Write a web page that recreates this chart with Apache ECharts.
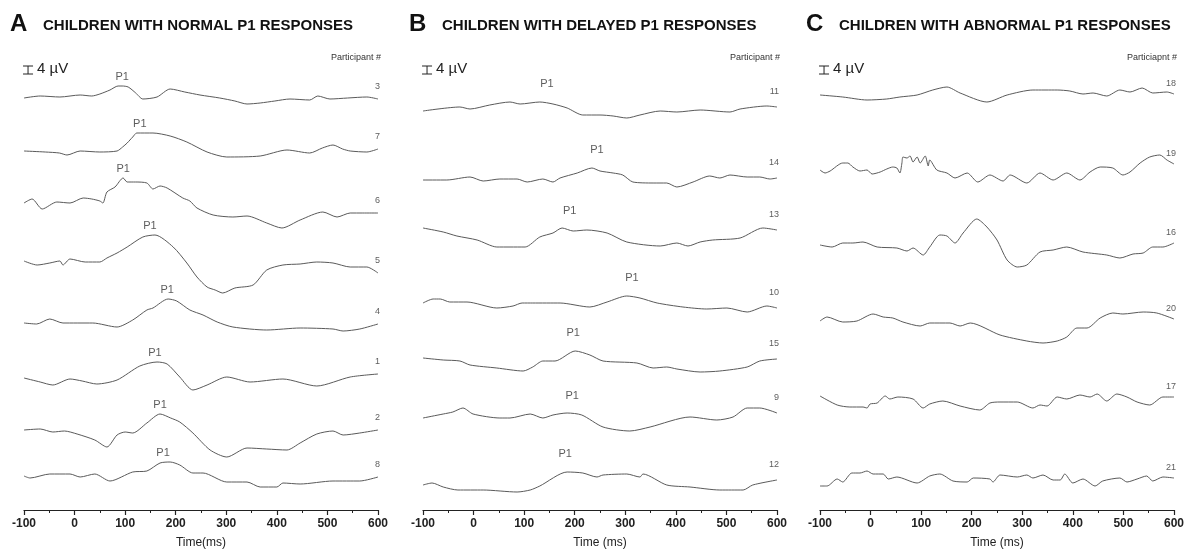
<!DOCTYPE html>
<html>
<head>
<meta charset="utf-8">
<script src="https://cdn.jsdelivr.net/npm/echarts@6/dist/echarts.min.js"></script>
<style>
  html, body { margin: 0; padding: 0; background: #fff; }
  #chart { width: 1186px; height: 552px; }
</style>
</head>
<body>
<div id="chart"></div>
<script>
// time axis (ms)
const timeMin = -100, timeMax = 600, timeStep = 100;
const scaleBarUV = 4;

// each trace: [time ms, amplitude µV relative to its own baseline]
// ---- panel A : normal P1 ----
const A3 = [[-100,0],[-68,1],[-29,0.5],[11,1.5],[34,1],[50,2],[70,4],[86,6],[94,6],[106,5.5],[121,2.5],[135,-0.5],[163,0.5],[189,4.5],[218,3],[248,1.5],[287,0],[317,-1.5],[341,-3],[367,-2.5],[396,-1.5],[426,-0.5],[465,-1],[481,1],[505,-0.5],[540,0],[578,0.5],[600,-0.5]];
const A7 = [[-100,0],[-58,-0.5],[-30,-1],[-15,-2],[11,0],[50,-0.5],[84,0],[95,2],[104,4],[115,7],[123,9],[155,9],[189,7.5],[222,4.5],[262,-0.5],[301,-3],[367,-2.5],[420,0.5],[465,-1],[490,1.5],[511,3],[530,1],[545,0],[578,-0.5],[600,1]];
const A6 = [[-100,0],[-84,2],[-64,-3],[-35,0.5],[-9,0],[17,2.5],[34,2],[50,1],[56,0],[64,5.5],[80,8],[96,12.5],[104,10.5],[120,10.5],[143,10],[155,7],[169,8.5],[183,7.5],[214,2.5],[228,1],[242,-2.5],[274,-6],[313,-7],[341,-6.5],[380,-10],[410,-12.5],[446,-8.5],[491,-4.5],[519,-7],[545,-5],[570,-5],[600,-5]];
const A5 = [[-100,0],[-74,-2],[-49,-1],[-29,0],[-23,-2],[-9,1],[21,-0.5],[50,-0.5],[64,1.5],[84,4],[104,7],[135,12],[159,13],[195,7],[222,-1],[242,-8],[262,-13],[278,-14.5],[293,-16],[317,-13.5],[353,-12],[380,-4.5],[412,-2],[446,-1.5],[479,-0.5],[511,-1],[545,-3],[578,-3],[600,-6]];
const A4 = [[-100,0],[-75,-0.5],[-49,2],[-23,0],[36,0],[84,-2],[115,1.5],[143,6.5],[155,7.5],[185,12],[202,11],[228,6.5],[254,4],[282,0.5],[313,-2],[380,-3.5],[446,-2.5],[511,-3],[531,-4],[564,-3],[600,-0.5]];
const A1 = [[-100,0],[-68,-2],[-43,-3.5],[-9,-0.5],[15,-1.5],[44,-3],[84,-1],[129,6],[163,8],[183,7],[208,0.5],[234,-6],[262,-3.5],[301,0.5],[347,-2],[412,-0.5],[479,-4],[545,0.5],[600,2]];
const A2 = [[-100,0],[-68,0.5],[-43,-1],[-20,-0.5],[5,-2],[40,-5],[64,-8.5],[84,-2.5],[100,-1],[115,-1.5],[143,3.5],[169,8],[190,6],[208,4],[234,-1.5],[268,-10],[301,-13.5],[341,-9],[380,-9.5],[420,-10],[446,-6.5],[479,-2],[511,-0.5],[531,-2.5],[564,-1.5],[600,0]];
const A8 = [[-100,0],[-88,-1],[-49,1],[-9,1],[11,-0.5],[40,1],[70,-2.5],[115,2],[143,2.5],[169,6.5],[189,7],[208,5.5],[234,1.5],[254,1.5],[301,-3],[341,-3],[367,-5.5],[400,-5.5],[412,-3.5],[446,-4],[511,-2.5],[564,-2.5],[600,-0.5]];

// ---- panel B : delayed P1 ----
const B11 = [[-100,0],[-27,2],[-7,1],[32,3],[72,4.5],[92,3.5],[131,4.5],[157,3.5],[185,1.5],[216,-2],[250,-2],[276,-2.5],[303,-3.5],[329,-2],[369,0],[402,-0.5],[448,0.5],[507,-0.5],[527,1],[580,2.5],[600,2]];
const B14 = [[-100,0],[-53,0],[-7,1.5],[19,-0.5],[52,0.5],[86,0.5],[106,-1],[137,0.5],[157,-1],[171,1],[205,3.5],[234,6],[250,4.5],[276,3.5],[295,2.5],[315,-1],[355,-1.5],[382,-1.5],[402,-3.5],[434,-1],[467,2],[487,1],[507,2.5],[541,1.5],[566,1.5],[586,0.5],[600,1]];
const B13 = [[-100,0],[-60,-2],[-33,-4],[7,-6],[46,-9.5],[72,-9.5],[102,-9.5],[131,-4.5],[157,-2.5],[175,0],[197,-1.5],[224,-1],[264,-2.5],[303,-7],[369,-9],[402,-7.5],[424,-9],[448,-7],[473,-6],[527,-5],[572,0],[600,-1]];
const B10 = [[-100,0],[-80,2],[-66,2],[-47,0.5],[-13,0.5],[46,-2.5],[78,-1.5],[96,0],[117,0],[171,0],[230,-2],[264,0.5],[303,3.5],[329,2.5],[363,0],[414,-2],[461,-3],[501,-2.5],[541,-4.5],[580,-1.5],[600,-2.5]];
const B15 = [[-100,0],[-60,-1],[-27,-1.5],[-7,-3.5],[46,-5],[98,-6.5],[117,-4.5],[137,-1.5],[161,-1.5],[201,3.5],[230,1.5],[256,-1.5],[323,-2.5],[355,-5],[382,-4.5],[402,-5.5],[448,-7],[487,-6.5],[541,-4.5],[566,-1.5],[600,-0.5]];
const B9 = [[-100,0],[-60,2],[-41,3],[-21,5],[-1,2],[52,0],[72,0],[112,2],[137,0],[157,1.5],[185,2.5],[214,1.5],[256,-4.5],[309,-6.5],[349,-4.5],[428,0.5],[481,-1],[513,0.5],[541,5],[566,5],[600,2.5]];
const B12 = [[-100,0],[-82,1],[-60,-1],[-31,-2.5],[19,-2.5],[86,-3.5],[112,-2.5],[131,-0.5],[185,6.5],[216,6],[244,4],[256,5],[303,5.5],[329,4],[335,5.5],[382,0],[428,-1],[487,-2.5],[533,-2.5],[552,0],[600,2.5]];

// ---- panel C : abnormal P1 ----
const C18 = [[-100,0],[-55,-1],[-7,-2.5],[32,-2],[58,-1],[92,0],[123,2.5],[151,4],[177,1],[230,-3.5],[270,0],[321,2.5],[369,2.5],[394,2],[420,0.5],[440,1],[467,-0.5],[493,2.5],[513,1.5],[537,3.5],[558,1],[586,1.5],[600,0.5]];
const C19 = [[-100,0],[-90,-1.5],[-80,-0.5],[-55,3.5],[-45,3.5],[-35,1.5],[-21,-0.5],[-7,0],[3,-2],[19,-1],[32,0.5],[44,1.5],[52,1],[58,-1.5],[62,3.5],[64,6.5],[72,6],[78,7],[84,4],[92,6.5],[98,3.5],[108,7],[114,2],[117,5],[131,0],[151,-1.5],[167,-4],[191,-1.5],[212,-6],[236,-2.5],[262,-5.5],[276,-2.5],[309,-6.5],[335,-1.5],[361,-5],[388,-1.5],[414,-5],[434,-1],[454,1.5],[479,1],[499,-2.5],[513,-1],[533,3.5],[552,6.5],[572,7.5],[586,5],[600,3]];
const C16 = [[-100,0],[-76,-1],[-55,1],[-35,1],[-15,1.5],[13,-1],[52,-1.5],[72,-3],[84,-1.5],[104,-5],[117,-1],[137,5],[151,4.5],[167,1],[183,6],[210,13],[230,9],[250,2.5],[270,-7.5],[290,-11],[309,-10],[335,-3.5],[361,-2.5],[388,-1],[420,-3.5],[467,-5],[493,-6.5],[519,-4.5],[539,-4],[558,-1],[578,-1],[600,1]];
const C20 = [[-100,0],[-86,2],[-55,-0.5],[-27,0],[5,3.5],[25,2],[44,1.5],[64,-0.5],[98,-2.5],[117,-1],[157,-1],[177,-2.5],[197,-1],[256,-7],[309,-10],[341,-11],[369,-10],[388,-8],[408,-3.5],[428,-3.5],[454,1.5],[479,4],[499,3.5],[539,4.5],[566,4],[600,1]];
const C17 = [[-100,0],[-66,-4.5],[-41,-5.5],[-15,-5.5],[-7,-6],[-1,-4],[13,-3.5],[29,0],[38,-1.5],[54,-0.5],[84,-1.5],[104,-6],[117,-4],[143,-2.5],[177,-5],[216,-7],[236,-3.5],[256,-3],[290,-3],[321,-6],[335,-4.5],[349,-5],[369,-0.5],[388,-1.5],[414,0.5],[434,-0.5],[448,1],[467,-2.5],[487,1],[507,-0.5],[527,-3],[552,-4.5],[578,-0.5],[600,-0.5]];
const C21 = [[-100,0],[-86,0],[-66,3.5],[-55,2],[-37,6.5],[-21,6.5],[-7,7.5],[5,6],[25,6],[35,3.5],[52,4.5],[92,1.5],[117,5],[137,6],[163,2.5],[191,2],[203,4],[236,3.5],[242,2],[256,5.5],[290,4.5],[309,5.5],[321,4],[341,5.5],[361,3],[375,3],[384,6],[400,1.5],[420,3.5],[444,0],[459,2.5],[493,4],[507,2],[527,3.5],[546,5],[558,2.5],[578,4.5],[600,4]];

// participant numbers and vertical offset (µV) of each trace, top to bottom
const idsA = ['3', '7', '6', '5', '4', '1', '2', '8'];
const offsetsA = [206, 179.5, 153.5, 124.5, 93.5, 66, 40, 17];
const idsB = ['11', '14', '13', '10', '15', '9', '12'];
const offsetsB = [199.5, 165, 141, 103.5, 76, 46, 12.5];
const idsC = ['18', '19', '16', '20', '17', '21'];
const offsetsC = [207.5, 170, 132.5, 94.5, 57, 12];

// P1 peak [latency ms, amplitude µV]
const p1A = [[94,6],[129,9],[96,12.5],[149,13],[183,12],[159,8],[169,8],[175,7]];
const p1B = [[145,4.5],[244,6],[190,-0.5],[313,3.5],[197,3.5],[195,2],[181,6.5]];

const titles = ['CHILDREN WITH NORMAL P1 RESPONSES', 'CHILDREN WITH DELAYED P1 RESPONSES', 'CHILDREN WITH ABNORMAL P1 RESPONSES'];
const letters = ['A', 'B', 'C'];
const headers = ['Participant #', 'Participant #', 'Particiapnt #'];
const axisNames = ['Time(ms)', 'Time (ms)', 'Time (ms)'];

const font = 'Liberation Sans, Arial, sans-serif';
const ink = '#222';
const traceColor = '#5a5a5a';

const panels = [
  { traces: [A3, A7, A6, A5, A4, A1, A2, A8], ids: idsA, offsets: offsetsA, p1: p1A, p1Gap: 4, idGap: 8 },
  { traces: [B11, B14, B13, B10, B15, B9, B12], ids: idsB, offsets: offsetsB, p1: p1B, p1Gap: 13, idGap: 11 },
  { traces: [C18, C19, C16, C20, C17, C21], ids: idsC, offsets: offsetsC, p1: null, p1Gap: 0, idGap: 6 }
];
const gridLeft = [24, 423, 820];

const chart = echarts.init(document.getElementById('chart'));

const series = [];
panels.forEach((p, k) => {
  p.traces.forEach((tr, i) => {
    series.push({
      type: 'line', xAxisIndex: k, yAxisIndex: k,
      data: tr.map(d => [d[0], d[1] + p.offsets[i]]),
      showSymbol: false, smooth: 0.25, silent: true,
      lineStyle: { color: traceColor, width: 1 }
    });
  });
  // participant numbers at the end of each trace
  series.push({
    type: 'scatter', xAxisIndex: k, yAxisIndex: k, symbolSize: 0, silent: true,
    data: p.traces.map((tr, i) => ({ value: [tr[tr.length - 1][0], tr[tr.length - 1][1] + p.offsets[i]], name: p.ids[i] })),
    label: { show: true, position: 'top', distance: p.idGap, align: 'right', offset: [2, 0],
      formatter: '{b}', fontSize: 9, color: '#333', fontFamily: font }
  });
  if (p.p1) {
    series.push({
      type: 'scatter', xAxisIndex: k, yAxisIndex: k, symbolSize: 0, silent: true,
      data: p.p1.map((d, i) => [d[0], d[1] + p.offsets[i]]),
      label: { show: true, position: 'top', distance: p.p1Gap, formatter: 'P1',
        fontSize: 11, color: '#333', fontFamily: font }
    });
  }
  // 4 µV calibration bar drawn through the y scale
  series.push({
    type: 'custom', xAxisIndex: k, yAxisIndex: k, silent: true,
    data: [[-92, 218]],
    renderItem: (params, api) => {
      const a = api.coord([api.value(0), api.value(1)]);
      const b = api.coord([api.value(0), api.value(1) + scaleBarUV]);
      const w = 5, st = { stroke: ink, lineWidth: 1 };
      return { type: 'group', children: [
        { type: 'line', shape: { x1: a[0], y1: a[1], x2: b[0], y2: b[1] }, style: st },
        { type: 'line', shape: { x1: a[0] - w, y1: a[1], x2: a[0] + w, y2: a[1] }, style: st },
        { type: 'line', shape: { x1: b[0] - w, y1: b[1], x2: b[0] + w, y2: b[1] }, style: st },
        { type: 'text', x: a[0] + 9, y: (a[1] + b[1]) / 2 - 1,
          style: { text: scaleBarUV + ' µV', fontSize: 15, fontFamily: font, fill: ink, verticalAlign: 'middle' } }
      ] };
    }
  });
});

const graphic = [];
[0, 1, 2].forEach(k => {
  const x0 = gridLeft[k];
  graphic.push({ type: 'text', left: x0 - 14, top: 12,
    style: { text: letters[k], fontSize: 24, fontWeight: 'bold', fontFamily: font, fill: '#111' } });
  graphic.push({ type: 'text', left: x0 + 19, top: 18,
    style: { text: titles[k], fontSize: 15, fontWeight: 'bold', fontFamily: font, fill: '#111' } });
  graphic.push({ type: 'text', right: 1186 - (x0 + 357), top: 53,
    style: { text: headers[k], fontSize: 9, fontFamily: font, fill: '#333' } });
});

chart.setOption({
  animation: false,
  backgroundColor: '#fff',
  grid: gridLeft.map(l => ({ left: l, width: 354, top: 50, height: 460, containLabel: false, outerBoundsMode: 'none' })),
  xAxis: [0, 1, 2].map(k => ({
    gridIndex: k, type: 'value', min: timeMin, max: timeMax, interval: timeStep,
    name: axisNames[k], nameLocation: 'middle', nameGap: 27,
    nameTextStyle: { fontSize: 12, color: ink, fontFamily: font },
    axisLine: { onZero: false, lineStyle: { color: ink, width: 1.2 } },
    axisTick: { show: true, length: 5, lineStyle: { color: ink, width: 1.2 } },
    minorTick: { show: true, splitNumber: 2, length: 3, lineStyle: { color: ink, width: 1 } },
    axisLabel: { fontSize: 12, fontWeight: 'bold', color: ink, fontFamily: font, margin: 8,
      showMinLabel: true, showMaxLabel: true },
    splitLine: { show: false }, minorSplitLine: { show: false }
  })),
  yAxis: [0, 1, 2].map(k => ({
    gridIndex: k, type: 'value', min: 0, max: 230, show: false, splitLine: { show: false }
  })),
  graphic: graphic,
  series: series
});
</script>
</body>
</html>
